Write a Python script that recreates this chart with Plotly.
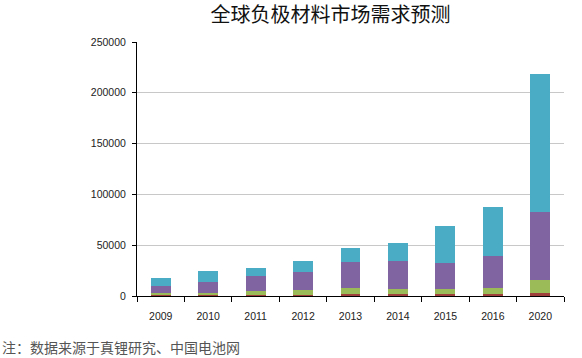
import plotly.graph_objects as go

years = ["2009", "2010", "2011", "2012", "2013", "2014", "2015", "2016", "2020"]
s_red = [500, 700, 1000, 1200, 1500, 1500, 1800, 2000, 2500]
s_olive = [2200, 2500, 4000, 4800, 6100, 5100, 5200, 5600, 13200]
s_purple = [7100, 10800, 15000, 17600, 26200, 27800, 25100, 31400, 67300]
s_teal = [8200, 10600, 7900, 10900, 13700, 18100, 37100, 48300, 136000]
y_ticks = [0, 50000, 100000, 150000, 200000, 250000]

colors = ["#A0403D", "#9BBB59", "#8064A2", "#4BACC6"]
fig = go.Figure()
for vals, c in zip([s_red, s_olive, s_purple, s_teal], colors):
    fig.add_trace(go.Bar(x=years, y=vals, marker=dict(color=c, line=dict(width=0)),
                         showlegend=False))

fig.update_layout(
    barmode="stack", bargap=0.58,
    width=582, height=358,
    margin=dict(l=137, r=18, t=42, b=62),
    paper_bgcolor="white", plot_bgcolor="white",
    font=dict(family="Liberation Sans Narrow, Liberation Sans, sans-serif", size=10.5, color="#222"),
    title=dict(text="全球负极材料市场需求预测", x=0.568, xanchor="center", y=0.958, yanchor="middle",
               font=dict(family="Noto Sans CJK SC", size=20, color="#111")),
    xaxis=dict(type="category", showline=True, linecolor="black", linewidth=1,
               ticks="outside", ticklen=5, tickcolor="black", tickson="boundaries",
               showgrid=False, ticklabelstandoff=10),
    yaxis=dict(range=[0, 250000], tickvals=y_ticks, ticktext=[str(v) for v in y_ticks],
               showline=True, linecolor="black", linewidth=1,
               ticks="outside", ticklen=4, tickcolor="black", ticklabelstandoff=4,
               showgrid=True, gridcolor="#C8C8C8", gridwidth=1, zeroline=False),
)
fig.add_annotation(text="注：数据来源于真锂研究、中国电池网", xref="paper", yref="paper",
                   x=-137/427, y=-0.2, xanchor="left", yanchor="middle", showarrow=False,
                   font=dict(family="Noto Sans CJK SC", size=14, color="#555"))
fig.write_html("out.html")
